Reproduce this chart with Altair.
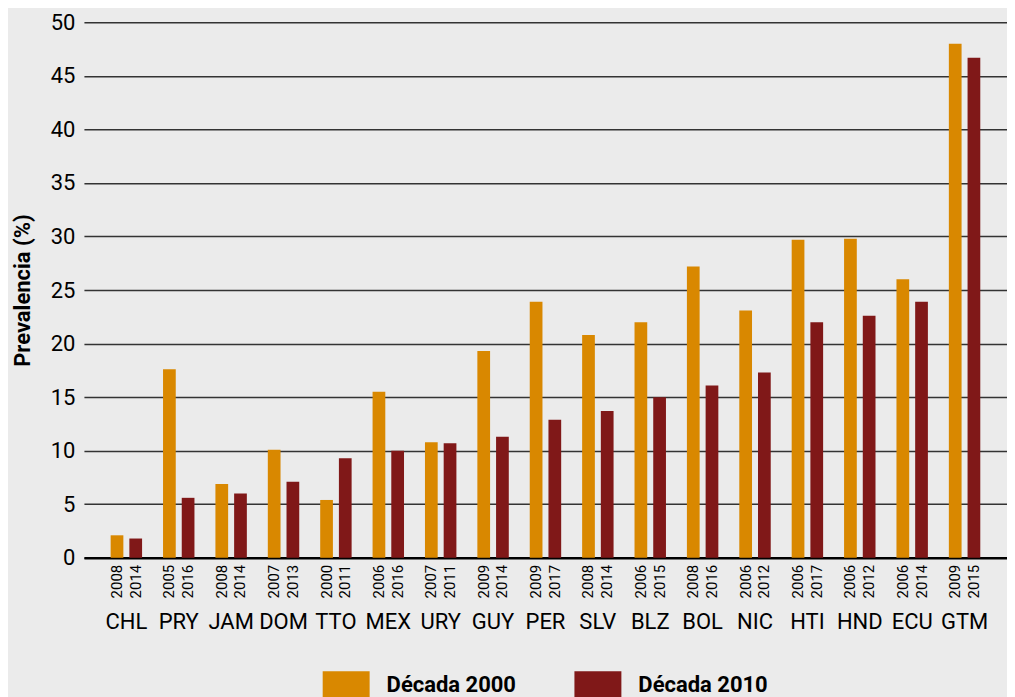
import altair as alt
import pandas as pd

countries = ["CHL", "PRY", "JAM", "DOM", "TTO", "MEX", "URY", "GUY", "PER",
             "SLV", "BLZ", "BOL", "NIC", "HTI", "HND", "ECU", "GTM"]
years_2000 = ["2008", "2005", "2008", "2007", "2000", "2006", "2007", "2009", "2009",
              "2008", "2006", "2008", "2006", "2006", "2006", "2006", "2009"]
years_2010 = ["2014", "2016", "2014", "2013", "2011", "2016", "2011", "2014", "2017",
              "2014", "2015", "2016", "2012", "2017", "2012", "2014", "2015"]
values_2000 = [2.1, 17.6, 6.9, 10.1, 5.4, 15.5, 10.8, 19.3, 23.9,
               20.8, 22.0, 27.2, 23.1, 29.7, 29.8, 26.0, 48.0]
values_2010 = [1.8, 5.6, 6.0, 7.1, 9.3, 10.0, 10.7, 11.3, 12.9,
               13.7, 15.0, 16.1, 17.3, 22.0, 22.6, 23.9, 46.7]
decades = ["Década 2000", "Década 2010"]

rows = []
for i, c in enumerate(countries):
    rows.append({"country": c, "decade": decades[0], "value": values_2000[i], "year": years_2000[i]})
    rows.append({"country": c, "decade": decades[1], "value": values_2010[i], "year": years_2010[i]})
df = pd.DataFrame(rows)

FONT = "Roboto"
W, H = 924, 536

xscale = alt.Scale(paddingInner=0.4, paddingOuter=0.51)
xoff = alt.Scale(paddingInner=0.32, paddingOuter=0)
color = alt.Scale(domain=decades, range=["#d98800", "#801818"])

base = alt.Chart(df)

bars = base.mark_bar().encode(
    x=alt.X("country:N", sort=countries, scale=xscale,
            axis=alt.Axis(title=None, labelAngle=0, labelFont=FONT, labelFontSize=22,
                          labelColor="#000", labelPadding=54, ticks=False,
                          domainColor="#000", domainWidth=2.5)),
    xOffset=alt.XOffset("decade:N", sort=decades, scale=xoff),
    y=alt.Y("value:Q", scale=alt.Scale(domain=[0, 50], nice=False),
            axis=alt.Axis(title="Prevalencia (%)", values=list(range(0, 51, 5)),
                          labelFont=FONT, labelFontSize=22, labelColor="#000",
                          labelPadding=9, ticks=False, domain=False,
                          grid=True, gridColor="#333333", gridWidth=1.5,
                          titleFont=FONT, titleFontSize=22, titleFontWeight="bold",
                          titleColor="#000", titlePadding=16)),
    color=alt.Color("decade:N", scale=color, sort=decades,
                    legend=alt.Legend(title=None, orient="none", direction="horizontal",
                                      legendX=239, legendY=640,
                                      symbolType="M-1,-0.6H1V0.6H-1Z", symbolSize=2209,
                                      symbolStrokeWidth=0, symbolOpacity=1,
                                      labelFont=FONT, labelFontSize=22, labelFontWeight="bold",
                                      labelColor="#000", labelOffset=17, columnPadding=58,
                                      padding=0, labelLimit=300)),
)

years = base.mark_text(angle=270, align="right", baseline="middle",
                       font=FONT, fontSize=15, color="#000").encode(
    x=alt.X("country:N", sort=countries, scale=xscale),
    xOffset=alt.XOffset("decade:N", sort=decades, scale=xoff),
    y=alt.value(H + 7),
    text="year:N",
)

chart = alt.layer(bars, years).properties(
    width=W, height=H,
    background="#ebebeb",
    autosize=alt.AutoSizeParams(type="none"),
    padding={"left": 76, "top": 14, "right": 0, "bottom": 139},
).configure_view(stroke=None)

chart.save("out.html", embed_options={"renderer": "svg", "actions": False})
